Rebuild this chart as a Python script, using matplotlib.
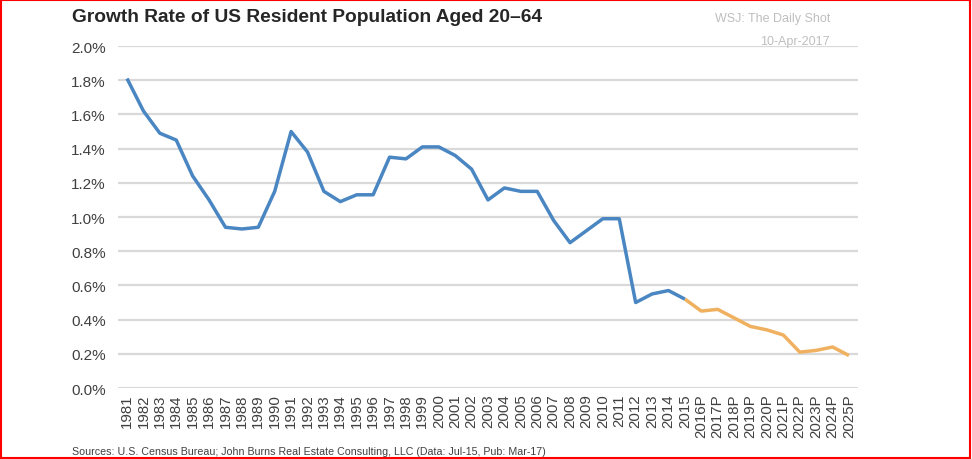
import numpy as np
import matplotlib
matplotlib.use('Agg')
import matplotlib.pyplot as plt
from matplotlib.patches import Rectangle

plt.rcParams['font.family'] = ['Liberation Sans', 'DejaVu Sans']

# Dados (%)
years = ['1981', '1982', '1983', '1984', '1985', '1986', '1987', '1988', '1989', '1990',
         '1991', '1992', '1993', '1994', '1995', '1996', '1997', '1998', '1999', '2000',
         '2001', '2002', '2003', '2004', '2005', '2006', '2007', '2008', '2009', '2010',
         '2011', '2012', '2013', '2014', '2015']
actual = [1.81, 1.62, 1.49, 1.45, 1.24, 1.10, 0.94, 0.93, 0.94, 1.15,
          1.50, 1.38, 1.15, 1.09, 1.13, 1.13, 1.35, 1.34, 1.41, 1.41,
          1.36, 1.28, 1.10, 1.17, 1.15, 1.15, 0.98, 0.85, 0.92, 0.99,
          0.99, 0.50, 0.55, 0.57, 0.52]
proj_years = ['2016P', '2017P', '2018P', '2019P', '2020P', '2021P', '2022P', '2023P',
              '2024P', '2025P']
projected = [0.45, 0.46, 0.41, 0.36, 0.34, 0.31, 0.21, 0.22, 0.24, 0.19]

labels = years + proj_years
x_act = np.arange(len(years))
x_proj = np.arange(len(years) - 1, len(labels))
y_proj = [actual[-1]] + projected

fig = plt.figure(figsize=(9.72, 4.6), dpi=100)
ax = fig.add_axes([0.1214, 0.1543, 0.7613, 0.7435])

ax.plot(x_proj, y_proj, color='#EFB160', linewidth=2.5, solid_capstyle='butt', zorder=3)
ax.plot(x_act, actual, color='#4A86C2', linewidth=2.5, solid_capstyle='butt', zorder=4)

ax.set_xlim(-0.55, len(labels) - 1 + 0.55)
ax.set_ylim(0, 2.0)
ax.set_yticks(np.arange(0, 2.01, 0.2))
ax.set_yticklabels([f'{v:.1f}%' for v in np.arange(0, 2.01, 0.2)])
ax.set_xticks(np.arange(len(labels)))
ax.set_xticklabels(labels, rotation=90)

ax.grid(axis='y', color='#D9D9D9', linewidth=1.6)
ax.set_axisbelow(True)
for s in ax.spines.values():
    s.set_visible(False)
ax.tick_params(axis='both', length=0, colors='#404040')
ax.tick_params(axis='y', labelsize=11, pad=9)
ax.tick_params(axis='x', labelsize=10.8, pad=4)

fig.text(0.074, 0.962, 'Growth Rate of US Resident Population Aged 20\u201364',
         fontsize=13.8, fontweight='bold', color='#262626', va='center', ha='left')
fig.text(0.854, 0.958, 'WSJ: The Daily Shot', fontsize=9, color='#BFBFBF',
         va='center', ha='right')
fig.text(0.854, 0.908, '10-Apr-2017', fontsize=9, color='#BFBFBF',
         va='center', ha='right')
fig.text(0.074, 0.017, 'Sources: U.S. Census Bureau; John Burns Real Estate Consulting, LLC (Data: Jul-15, Pub: Mar-17)',
         fontsize=7.65, color='#404040', va='center', ha='left')

# Moldura vermelha
fig.patches.append(Rectangle((0.001, 0.002), 0.997, 0.996, transform=fig.transFigure,
                             fill=False, edgecolor='red', linewidth=1.5))

fig.savefig('out.png', dpi=100)
